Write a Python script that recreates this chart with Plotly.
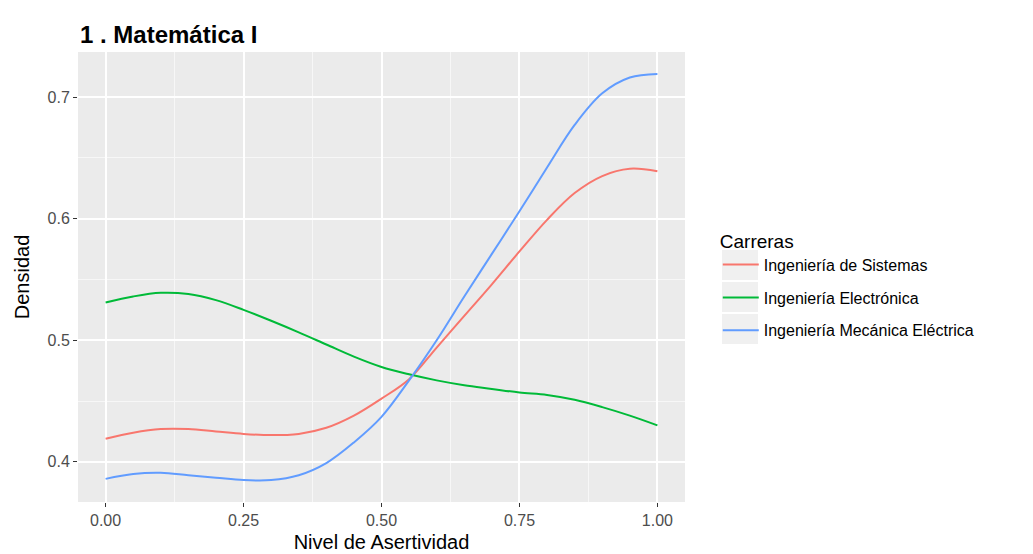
import plotly.graph_objects as go

# Data
nivel = [0.00, 0.05, 0.10, 0.15, 0.20, 0.25, 0.30, 0.35, 0.40, 0.45, 0.50,
         0.55, 0.60, 0.65, 0.70, 0.75, 0.80, 0.85, 0.90, 0.95, 1.00]

sistemas = [0.419, 0.424, 0.427, 0.427, 0.425, 0.423, 0.422, 0.423, 0.428, 0.438, 0.452,
            0.468, 0.494, 0.520, 0.546, 0.573, 0.599, 0.621, 0.635, 0.641, 0.639]

electronica = [0.531, 0.536, 0.539, 0.538, 0.533, 0.525, 0.516, 0.5065, 0.4965, 0.4865, 0.478,
               0.472, 0.467, 0.463, 0.460, 0.457, 0.455, 0.451, 0.445, 0.438, 0.430]

mecanica = [0.386, 0.390, 0.391, 0.389, 0.387, 0.385, 0.385, 0.389, 0.399, 0.416, 0.437,
            0.467, 0.500, 0.536, 0.571, 0.606, 0.642, 0.677, 0.703, 0.716, 0.719]

series_names = ["Ingeniería de Sistemas", "Ingeniería Electrónica", "Ingeniería Mecánica Eléctrica"]
series_values = [sistemas, electronica, mecanica]
colors = ["#F8766D", "#00BA38", "#619CFF"]

x_ticks = [0.0, 0.25, 0.5, 0.75, 1.0]
x_ticklabels = ["0.00", "0.25", "0.50", "0.75", "1.00"]
y_ticks = [0.4, 0.5, 0.6, 0.7]
y_ticklabels = ["0.4", "0.5", "0.6", "0.7"]

FONT = "Liberation Sans, Arial, sans-serif"
W, H = 1025, 546  # page body adds an 8px margin
L, T, B = 70, 44, 52
PLOT_W, PLOT_H = 607, H - T - B

fig = go.Figure()
for name, vals, col in zip(series_names, series_values, colors):
    fig.add_trace(go.Scatter(
        x=nivel, y=vals, mode="lines", name=name, legendgroup=name,
        line=dict(color=col, width=2, shape="spline", smoothing=1.0),
    ))

# light grey legend key backgrounds (ggplot style)
key_centers_px = [257, 289, 321]
for yc in key_centers_px:
    fig.add_shape(type="rect", xref="paper", yref="paper",
                  x0=(714 - L) / PLOT_W, x1=(750 - L) / PLOT_W,
                  y0=(H - B - (yc + 15)) / PLOT_H, y1=(H - B - (yc - 15)) / PLOT_H,
                  fillcolor="#F0F0F0", line=dict(width=0), layer="below")

fig.update_layout(
    width=W, height=H,
    margin=dict(l=L, r=W - L - PLOT_W, t=T, b=B, autoexpand=False),
    paper_bgcolor="white",
    plot_bgcolor="#EBEBEB",
    font=dict(family=FONT, color="#000000"),
    title=dict(text="<b>1 . Matemática I</b>", x=72 / W, xanchor="left",
               y=1 - 27 / H, yanchor="middle",
               font=dict(size=24, family=FONT, color="#000000")),
    legend=dict(
        title=dict(text="Carreras", font=dict(size=19, family=FONT, color="#000000")),
        x=1.054, xanchor="left", y=0.62, yanchor="top",
        font=dict(size=16, family=FONT, color="#000000"),
        bgcolor="rgba(0,0,0,0)", tracegroupgap=9, itemwidth=36,
    ),
    xaxis=dict(
        range=[-0.05, 1.05], tickvals=x_ticks, ticktext=x_ticklabels,
        showgrid=True, gridcolor="white", gridwidth=1.6, zeroline=False,
        ticks="outside", ticklen=4, tickcolor="#333333", tickwidth=1,
        tickfont=dict(size=16, color="#4D4D4D", family=FONT),
        minor=dict(dtick=0.125, tick0=0, showgrid=True, gridcolor="#F7F7F7", gridwidth=0.8),
        title=dict(text="Nivel de Asertividad", font=dict(size=20, family=FONT, color="#000000"),
                   standoff=6),
        showline=False, automargin=False,
    ),
    yaxis=dict(
        range=[0.367, 0.737], tickvals=y_ticks, ticktext=y_ticklabels,
        showgrid=True, gridcolor="white", gridwidth=1.6, zeroline=False,
        ticks="outside", ticklen=4, tickcolor="#333333", tickwidth=1,
        tickfont=dict(size=16, color="#4D4D4D", family=FONT),
        minor=dict(dtick=0.05, tick0=0.35, showgrid=True, gridcolor="#F7F7F7", gridwidth=0.8),
        title=dict(text="Densidad", font=dict(size=20, family=FONT, color="#000000"),
                   standoff=12),
        showline=False, automargin=False,
    ),
)

fig.write_html("out.html")
